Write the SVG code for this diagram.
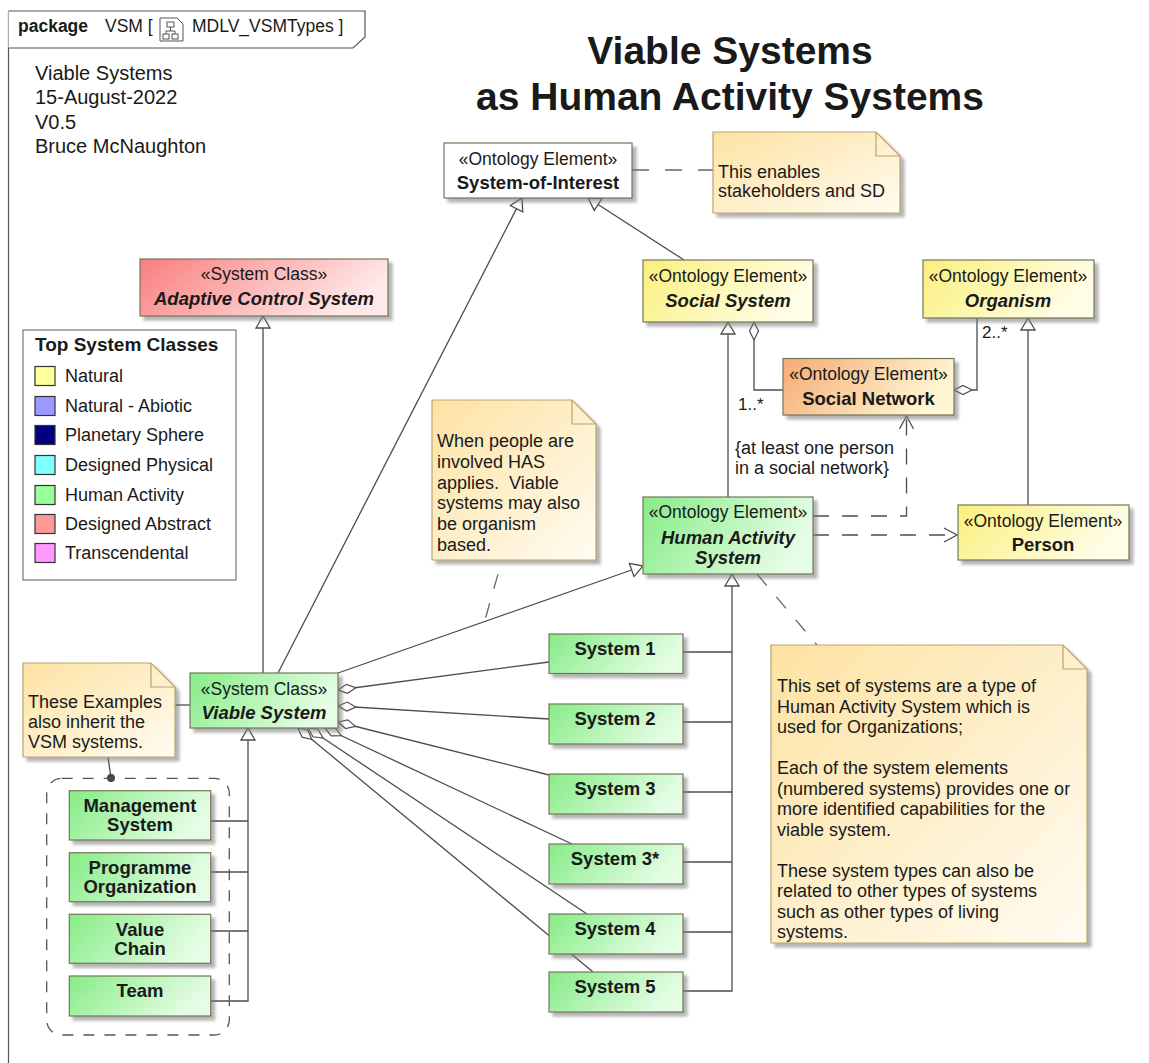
<svg xmlns="http://www.w3.org/2000/svg" width="1149" height="1063" viewBox="0 0 1149 1063">
<defs>
<style>
text{font-family:"Liberation Sans",Arial,sans-serif;fill:#1a1a1a}
.st{font-size:17.5px;text-anchor:middle}
.nm{font-size:18.5px;font-weight:bold;text-anchor:middle}
.it{font-style:italic}
.nt{font-size:18px;white-space:pre}
.hd{font-size:20px}
.ttl{font-size:39px;font-weight:bold;text-anchor:middle}
.lg{font-size:18px}
.tab{font-size:17.5px}
.box{stroke:#76765e;stroke-width:1.2;filter:url(#sh)}
.note{fill:url(#gN);stroke:#b9a56e;stroke-width:1.2;filter:url(#sh)}
.fold{fill:none;stroke:#b9a56e;stroke-width:1.2}
.ln{fill:none;stroke:#4d4d4d;stroke-width:1.3}
.gen{marker-end:url(#tri)}
.agg{marker-start:url(#dia)}
.dep{stroke-dasharray:16 13;marker-end:url(#opn)}
.anc{fill:none;stroke:#666;stroke-width:1.3;stroke-dasharray:15 15}
.sw{stroke:#333;stroke-width:1.2}
.mul{font-size:17px}
</style>
<filter id="sh" x="-5%" y="-5%" width="115%" height="130%"><feDropShadow dx="4" dy="4" stdDeviation="1.5" flood-color="#777" flood-opacity="0.55"/></filter>
<linearGradient id="gG" x1="0" y1="0" x2="1" y2="0.3"><stop offset="0" stop-color="#86ec86"/><stop offset="1" stop-color="#e4fde4"/></linearGradient>
<linearGradient id="gY" x1="0" y1="0" x2="1" y2="0.3"><stop offset="0" stop-color="#faf07c"/><stop offset="1" stop-color="#fffde6"/></linearGradient>
<linearGradient id="gR" x1="0" y1="0" x2="1" y2="0.3"><stop offset="0" stop-color="#f97d7d"/><stop offset="1" stop-color="#ffe8e8"/></linearGradient>
<linearGradient id="gO" x1="0" y1="0" x2="1" y2="0.3"><stop offset="0" stop-color="#f5aa74"/><stop offset="1" stop-color="#fff6d2"/></linearGradient>
<linearGradient id="gN" x1="0" y1="0" x2="1" y2="1"><stop offset="0" stop-color="#fde2a2"/><stop offset="1" stop-color="#fffcf2"/></linearGradient>
<marker id="tri" markerWidth="20" markerHeight="20" refX="12" refY="7" orient="auto" markerUnits="userSpaceOnUse" overflow="visible"><path d="M0,0 L12,7 L0,14 Z" fill="#fff" stroke="#4d4d4d" stroke-width="1.3"/></marker>
<marker id="dia" markerWidth="24" markerHeight="12" refX="0" refY="5" orient="auto" markerUnits="userSpaceOnUse" overflow="visible"><path d="M0,5 L9,0.5 L18,5 L9,9.5 Z" fill="#fff" stroke="#4d4d4d" stroke-width="1.2"/></marker>
<marker id="opn" markerWidth="20" markerHeight="20" refX="13" refY="7" orient="auto" markerUnits="userSpaceOnUse" overflow="visible"><path d="M0,0 L13,7 L0,14" fill="none" stroke="#4d4d4d" stroke-width="1.3" stroke-dasharray="none"/></marker>
</defs>
<rect width="1149" height="1063" fill="#fff"/>

<g id="frame">
<path d="M8.5,11 V1063" fill="none" stroke="#555" stroke-width="1.2"/>
<path d="M8.5,11 H365 V37 L353,48 H8.5" fill="#fff" stroke="#555" stroke-width="1.2"/>
<text class="tab" x="18" y="32" font-weight="bold">package</text>
<text class="tab" x="105" y="32">VSM [</text>
<g fill="none" stroke="#555" stroke-width="1">
<path d="M160,18 H177 L183,24 V41 H160 Z"/>
<rect x="167" y="22" width="7" height="5"/>
<rect x="163" y="34" width="6" height="5"/>
<rect x="172" y="34" width="6" height="5"/>
<path d="M170.5,27 V31 M166,31 H175 M166,31 V34 M175,31 V34"/>
</g>
<text class="tab" x="192" y="32">MDLV_VSMTypes ]</text>
</g>

<g id="header">
<text class="hd" x="35" y="80">Viable Systems</text>
<text class="hd" x="35" y="104">15-August-2022</text>
<text class="hd" x="35" y="128.5">V0.5</text>
<text class="hd" x="35" y="153">Bruce McNaughton</text>
</g>

<g id="title">
<text class="ttl" x="730" y="64">Viable Systems</text>
<text class="ttl" x="730" y="110">as Human Activity Systems</text>
</g>

<g id="legend">
<rect x="23" y="330" width="213" height="250" fill="#fff" stroke="#777" stroke-width="1.2"/>
<text x="35" y="351" font-size="19" font-weight="bold">Top System Classes</text>
<rect class="sw" x="35" y="366.5" width="20" height="19" fill="#ffff99"/>
<text class="lg" x="65" y="382">Natural</text>
<rect class="sw" x="35" y="396.5" width="20" height="19" fill="#9999ff"/>
<text class="lg" x="65" y="412">Natural - Abiotic</text>
<rect class="sw" x="35" y="425.5" width="20" height="19" fill="#000080"/>
<text class="lg" x="65" y="441">Planetary Sphere</text>
<rect class="sw" x="35" y="455.5" width="20" height="19" fill="#80ffff"/>
<text class="lg" x="65" y="471">Designed Physical</text>
<rect class="sw" x="35" y="485.5" width="20" height="19" fill="#99ff99"/>
<text class="lg" x="65" y="501">Human Activity</text>
<rect class="sw" x="35" y="514.5" width="20" height="19" fill="#ff9999"/>
<text class="lg" x="65" y="530">Designed Abstract</text>
<rect class="sw" x="35" y="543.5" width="20" height="19" fill="#ff99ff"/>
<text class="lg" x="65" y="559">Transcendental</text>
</g>

<g id="connectors">
<path class="ln gen" d="M278,673 L522,198"/>
<path class="ln gen" d="M684,260 L588,198"/>
<path class="ln gen" d="M263,673 V316"/>
<path class="ln gen" d="M338,673 L643,566"/>
<path class="ln gen" d="M728,497 V322"/>
<path class="ln gen" d="M1028,505 V318"/>
<path class="ln gen" d="M683,991 H732 V574"/>
<path class="ln" d="M683,652 H732 M683,722 H732 M683,792 H732 M683,862 H732 M683,932 H732"/>
<path class="ln gen" d="M211,1001 H248 V728"/>
<path class="ln" d="M211,821 H248 M211,872 H248 M211,931 H248"/>
<path class="ln agg" d="M754,322 V390 H783"/>
<path class="ln agg" d="M954,390 H977 V318"/>
<path class="ln agg" d="M338,690 L549,662"/>
<path class="ln agg" d="M338,706 L549,719"/>
<path class="ln agg" d="M338,722 L549,775"/>
<path class="ln agg" d="M325,728 L572,844"/>
<path class="ln agg" d="M308,728 L587,914"/>
<path class="ln agg" d="M298,728 L593,972"/>
<path class="ln dep" d="M813,516 H906.5 V416"/>
<path class="ln dep" d="M813,535 H957"/>
<path class="anc" d="M632,170 H713" style="stroke-dasharray:17 16"/>
<path class="anc" d="M502,560 L485,620" style="stroke-dashoffset:15"/>
<path class="anc" d="M757,574 L817,645"/>
<path class="ln" d="M175,705 H190"/>
<path class="ln" d="M108,757 L111,778"/>
<circle cx="111" cy="778" r="4" fill="#444"/>
<text class="mul" x="738" y="410">1..*</text>
<text class="mul" x="982" y="338">2..*</text>
<text class="nt" x="735" y="454">{at least one person</text>
<text class="nt" x="735" y="474">in a social network}</text>
</g>

<g id="system-of-interest">
<rect class="box" x="444" y="143" width="188" height="55" fill="#fff"/>
<text class="st" x="538" y="165">«Ontology Element»</text>
<text class="nm" x="538" y="189">System-of-Interest</text>
</g>

<g id="note-enables">
<path class="note" d="M713,132 H876 L900,156 V213 H713 Z"/>
<path class="fold" d="M876,132 V156 H900"/>
<text class="nt" x="718" y="178">This enables</text>
<text class="nt" x="718" y="197">stakeholders and SD</text>
</g>

<g id="adaptive-control-system">
<rect class="box" x="140" y="259" width="248" height="57" fill="url(#gR)"/>
<text class="st" x="264" y="280">«System Class»</text>
<text class="nm it" x="264" y="305">Adaptive Control System</text>
</g>

<g id="social-system">
<rect class="box" x="643" y="260" width="170" height="62" fill="url(#gY)"/>
<text class="st" x="728" y="282">«Ontology Element»</text>
<text class="nm it" x="728" y="307">Social System</text>
</g>

<g id="organism">
<rect class="box" x="923" y="260" width="171" height="58" fill="url(#gY)"/>
<text class="st" x="1008" y="282">«Ontology Element»</text>
<text class="nm it" x="1008" y="307">Organism</text>
</g>

<g id="social-network">
<rect class="box" x="783" y="358.5" width="171" height="56.5" fill="url(#gO)"/>
<text class="st" x="868.5" y="380">«Ontology Element»</text>
<text class="nm" x="868.5" y="405">Social Network</text>
</g>

<g id="note-people">
<path class="note" d="M432,400 H572 L596,424 V560 H432 Z"/>
<path class="fold" d="M572,400 V424 H596"/>
<text class="nt" x="437" y="447">When people are</text>
<text class="nt" x="437" y="468">involved HAS</text>
<text class="nt" x="437" y="489">applies.  Viable</text>
<text class="nt" x="437" y="509">systems may also</text>
<text class="nt" x="437" y="530">be organism</text>
<text class="nt" x="437" y="551">based.</text>
</g>

<g id="human-activity-system">
<rect class="box" x="643" y="497" width="170" height="77" fill="url(#gG)"/>
<text class="st" x="728" y="518">«Ontology Element»</text>
<text class="nm it" x="728" y="544">Human Activity</text>
<text class="nm it" x="728" y="564">System</text>
</g>

<g id="person">
<rect class="box" x="958" y="505" width="171" height="55" fill="url(#gY)"/>
<text class="st" x="1043" y="527">«Ontology Element»</text>
<text class="nm" x="1043" y="551">Person</text>
</g>

<g id="viable-system">
<rect class="box" x="190" y="673" width="148" height="55" fill="url(#gG)"/>
<text class="st" x="264" y="695">«System Class»</text>
<text class="nm it" x="264" y="719">Viable System</text>
</g>

<g id="note-examples">
<path class="note" d="M23,663 H151 L175,687 V757 H23 Z"/>
<path class="fold" d="M151,663 V687 H175"/>
<text class="nt" x="28" y="708">These Examples</text>
<text class="nt" x="28" y="728">also inherit the</text>
<text class="nt" x="28" y="748">VSM systems.</text>
</g>

<g id="examples-group">
<rect x="46.7" y="778.3" width="182.6" height="256.7" rx="15" fill="none" stroke="#555" stroke-width="1.3" stroke-dasharray="11 10"/>
</g>
<g id="management-system">
<rect class="box" x="69.3" y="790.7" width="141.4" height="49.3" fill="url(#gG)"/>
<text class="nm" x="140" y="811.5">Management</text>
<text class="nm" x="140" y="831">System</text>
</g>
<g id="programme-organization">
<rect class="box" x="69.3" y="852.7" width="141.4" height="49" fill="url(#gG)"/>
<text class="nm" x="140" y="874">Programme</text>
<text class="nm" x="140" y="893">Organization</text>
</g>
<g id="value-chain">
<rect class="box" x="69.3" y="914.3" width="141.4" height="49" fill="url(#gG)"/>
<text class="nm" x="140" y="936">Value</text>
<text class="nm" x="140" y="955">Chain</text>
</g>
<g id="team">
<rect class="box" x="69.3" y="976" width="141.4" height="40" fill="url(#gG)"/>
<text class="nm" x="140" y="997">Team</text>
</g>

<g id="system-1">
<rect class="box" x="549" y="634" width="134" height="39.5" fill="url(#gG)"/>
<text class="nm" x="615" y="655">System 1</text>
</g>
<g id="system-2">
<rect class="box" x="549" y="704" width="134" height="40" fill="url(#gG)"/>
<text class="nm" x="615" y="725">System 2</text>
</g>
<g id="system-3">
<rect class="box" x="549" y="774" width="134" height="40" fill="url(#gG)"/>
<text class="nm" x="615" y="795">System 3</text>
</g>
<g id="system-3star">
<rect class="box" x="549" y="844" width="134" height="40" fill="url(#gG)"/>
<text class="nm" x="615" y="865">System 3*</text>
</g>
<g id="system-4">
<rect class="box" x="549" y="914" width="134" height="40" fill="url(#gG)"/>
<text class="nm" x="615" y="935">System 4</text>
</g>
<g id="system-5">
<rect class="box" x="549" y="972" width="134" height="40" fill="url(#gG)"/>
<text class="nm" x="615" y="993">System 5</text>
</g>

<g id="note-set">
<path class="note" d="M771,645 H1063 L1087,669 V943 H771 Z"/>
<path class="fold" d="M1063,645 V669 H1087"/>
<text class="nt" x="777" y="692">This set of systems are a type of</text>
<text class="nt" x="777" y="712.5">Human Activity System which is</text>
<text class="nt" x="777" y="733">used for Organizations;</text>
<text class="nt" x="777" y="774">Each of the system elements</text>
<text class="nt" x="777" y="794.5">(numbered systems) provides one or</text>
<text class="nt" x="777" y="815">more identified capabilities for the</text>
<text class="nt" x="777" y="835.5">viable system.</text>
<text class="nt" x="777" y="876.5">These system types can also be</text>
<text class="nt" x="777" y="897">related to other types of systems</text>
<text class="nt" x="777" y="917.5">such as other types of living</text>
<text class="nt" x="777" y="938">systems.</text>
</g>
</svg>
